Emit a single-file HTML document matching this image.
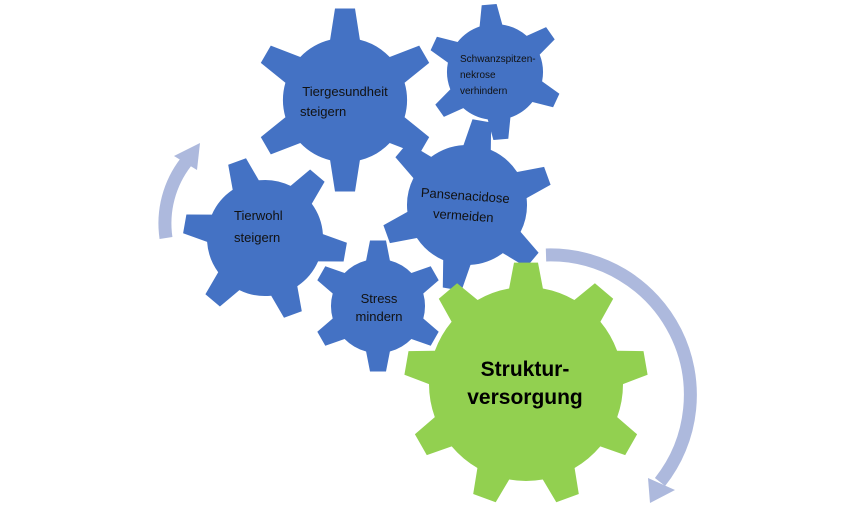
<!DOCTYPE html>
<html><head><meta charset="utf-8"><style>
html,body{margin:0;padding:0;background:#fff;width:856px;height:511px;overflow:hidden}
svg{display:block}
text{font-family:"Liberation Sans",sans-serif}
</style></head><body>
<svg id="s" width="856" height="511" viewBox="0 0 856 511" xmlns="http://www.w3.org/2000/svg">
<g id="g"></g>
<path d="M166,238 A100,100 0 0 1 186,162" fill="none" stroke="#adb9dd" stroke-width="13"/>
<polygon points="174,156 200,143 197,170" fill="#adb9dd"/>
<path d="M546,255 A140,140 0 0 1 660,482" fill="none" stroke="#adb9dd" stroke-width="13"/>
<polygon points="648,478 675,490 650,503" fill="#adb9dd"/>
<g id="t"></g>
<g font-size="13" fill="#111">
<text x="345" y="96" text-anchor="middle">Tiergesundheit</text>
<text x="300" y="116">steigern</text>
<text x="460" y="62" font-size="10">Schwanzspitzen-</text>
<text x="460" y="78" font-size="10">nekrose</text>
<text x="460" y="94" font-size="10">verhindern</text>
<text x="465" y="200" text-anchor="middle" transform="rotate(4 465 200)">Pansenacidose</text>
<text x="463" y="220" text-anchor="middle" transform="rotate(4 463 220)">vermeiden</text>
<text x="234" y="220">Tierwohl</text>
<text x="234" y="242">steigern</text>
<text x="379" y="303" text-anchor="middle">Stress</text>
<text x="379" y="321" text-anchor="middle">mindern</text>
<text x="525" y="376" text-anchor="middle" font-size="21" font-weight="bold" fill="#000">Struktur-</text>
<text x="525" y="404" text-anchor="middle" font-size="21" font-weight="bold" fill="#000">versorgung</text>
</g>
</svg>
<script>
function gear(cx,cy,R,r,n,rot,tw,bw,col){
  let d="";const step=2*Math.PI/n;
  for(let i=0;i<n;i++){
    const a=rot*Math.PI/180+i*step-Math.PI/2;
    const hb=bw/r/2, ht=tw/R/2;
    const pts=[[r,a-hb],[R,a-ht],[R,a+ht],[r,a+hb]];
    pts.forEach((p,j)=>{const x=cx+p[0]*Math.cos(p[1]),y=cy+p[0]*Math.sin(p[1]);
      d+=(i==0&&j==0?"M":"L")+x.toFixed(1)+","+y.toFixed(1)+" ";
      if(j==3){const na=a+step-hb;d+="A"+r+","+r+" 0 0 1 "+(cx+r*Math.cos(na)).toFixed(1)+","+(cy+r*Math.sin(na)).toFixed(1)+" ";}
    });
  }
  return '<path d="'+d+'Z" fill="'+col+'"/>';
}
const B="#4472c4";
let h="";
h+=gear(345,100,92,62,6,0,20,30,B);
h+=gear(495,72,68,48,6,-5,15,23,B);
h+=gear(467,205,86,60,6,10,19,28,B);
h+=gear(265,238,82,58,6,-20,19,28,B);
h+=gear(378,306,66,47,6,0,16,24,B);
document.getElementById("g").innerHTML=h;
document.getElementById("t").innerHTML=gear(526,384,122,97,9,0,24,34,"#92d050");
</script>
</body></html>
